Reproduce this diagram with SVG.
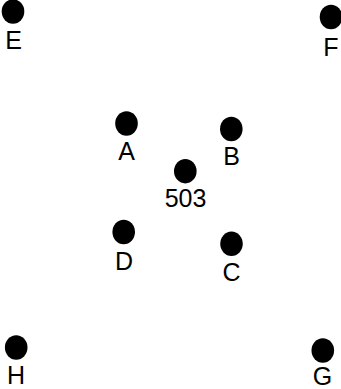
<svg xmlns="http://www.w3.org/2000/svg" width="341" height="389" viewBox="0 0 341 389">
<style>
.dot{fill:#000}
.lbl{font-family:"Liberation Sans",Arial,sans-serif;font-size:25px;fill:#000;text-anchor:middle}
</style>
<rect width="341" height="389" fill="#fff"/>
<g id="connectors"/>
<g id="node-E"><ellipse class="dot" cx="13" cy="11.5" rx="11.3" ry="12.2"/><text class="lbl" x="13.5" y="49">E</text></g>
<g id="node-F"><ellipse class="dot" cx="331" cy="17" rx="11.3" ry="12.2"/><text class="lbl" x="331" y="56">F</text></g>
<g id="node-A"><ellipse class="dot" cx="126.5" cy="123.5" rx="11.3" ry="12.2"/><text class="lbl" x="126.5" y="160">A</text></g>
<g id="node-B"><ellipse class="dot" cx="231.3" cy="129" rx="11.3" ry="12.2"/><text class="lbl" x="231.5" y="165">B</text></g>
<g id="node-503"><ellipse class="dot" cx="185.3" cy="171.2" rx="11.3" ry="12.2"/><text class="lbl" x="185.5" y="207">503</text></g>
<g id="node-D"><ellipse class="dot" cx="123.7" cy="232" rx="11.3" ry="12.2"/><text class="lbl" x="124" y="270">D</text></g>
<g id="node-C"><ellipse class="dot" cx="231.5" cy="243.8" rx="11.3" ry="12.2"/><text class="lbl" x="231.5" y="281">C</text></g>
<g id="node-H"><ellipse class="dot" cx="16.2" cy="347.5" rx="11.3" ry="12.2"/><text class="lbl" x="16" y="384">H</text></g>
<g id="node-G"><ellipse class="dot" cx="322.8" cy="350.5" rx="11.3" ry="12.2"/><text class="lbl" x="322.5" y="385">G</text></g>
</svg>
